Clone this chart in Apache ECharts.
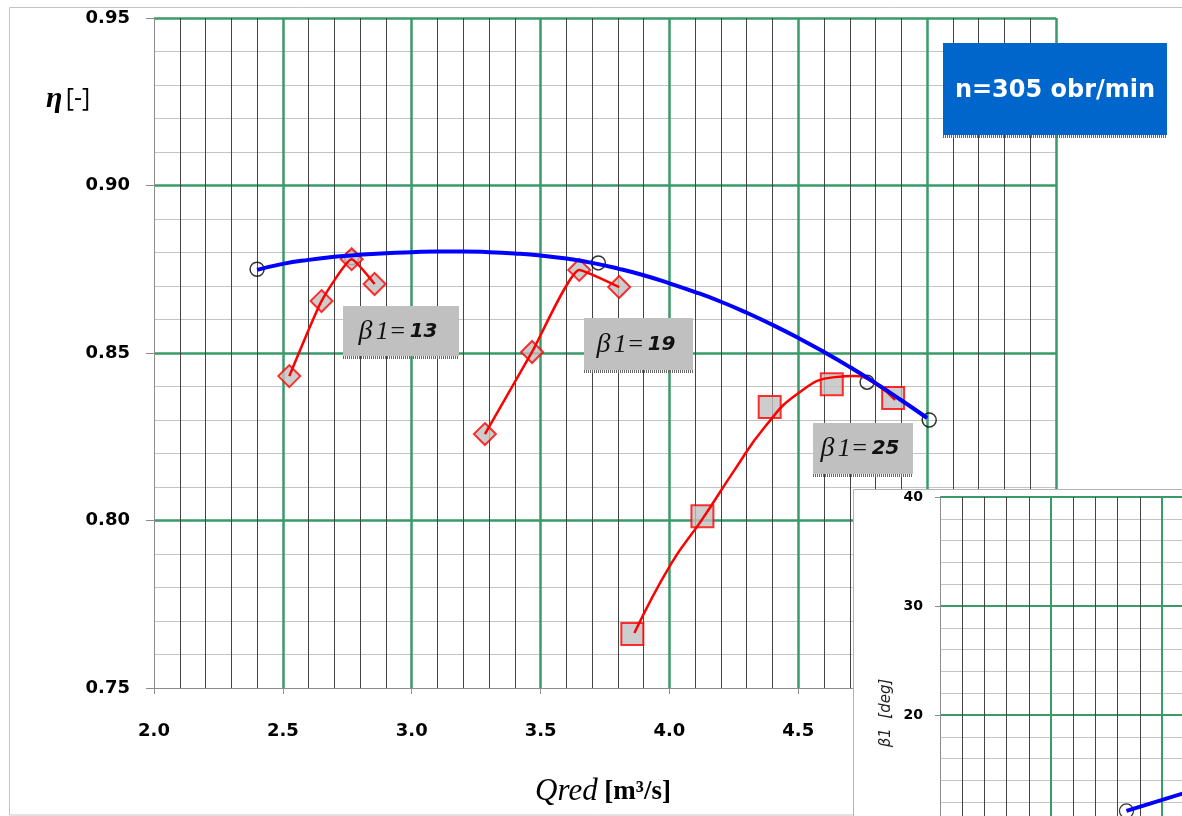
<!DOCTYPE html>
<html>
<head>
<meta charset="utf-8">
<script src="https://cdn.jsdelivr.net/npm/echarts@6/dist/echarts.min.js"></script>
<style>html,body{margin:0;padding:0;background:#fff;}#c{width:1182px;height:816px;}</style>
</head>
<body>
<div id="c"></div>
<script>
// ---- data ----
const xTicks = [2.0, 2.5, 3.0, 3.5, 4.0, 4.5, 5.0, 5.5];
const yTicks = [0.75, 0.80, 0.85, 0.90, 0.95];

// envelope (optimum) points and its fitted curve
const envQ   = [2.40, 2.767, 3.724, 4.767, 5.008];
const envEta = [0.8750, 0.8784, 0.8769, 0.8413, 0.8300];
const envCurveQ   = [2.40, 2.50, 2.60, 2.70, 2.80, 2.90, 3.00, 3.10, 3.20, 3.30, 3.40, 3.50, 3.60, 3.70, 3.80, 3.90, 4.00, 4.10, 4.20, 4.30, 4.40, 4.50, 4.60, 4.70, 4.80, 4.90, 5.00];
const envCurveEta = [0.8748, 0.8766, 0.8778, 0.8787, 0.8793, 0.8798, 0.8801, 0.8803, 0.8803, 0.8801, 0.8797, 0.8791, 0.8782, 0.8769, 0.8752, 0.8732, 0.8708, 0.8682, 0.8653, 0.8620, 0.8584, 0.8545, 0.8503, 0.8458, 0.8410, 0.8359, 0.8306];

// beta1 = 13
const b13Q   = [2.525, 2.650, 2.767, 2.856];
const b13Eta = [0.8431, 0.8655, 0.8780, 0.8706];
// beta1 = 19
const b19Q   = [3.284, 3.467, 3.650, 3.805];
const b19Eta = [0.8258, 0.8503, 0.8748, 0.8697];
// beta1 = 25 (markers and fitted curve)
const b25Q   = [3.856, 4.128, 4.389, 4.630, 4.868];
const b25Eta = [0.7661, 0.8013, 0.8339, 0.8407, 0.8366];
const b25CurveQ   = [3.864, 4.008, 4.125, 4.253, 4.370, 4.500, 4.642, 4.720, 4.813, 4.876];
const b25CurveEta = [0.7664, 0.7873, 0.8001, 0.8151, 0.8279, 0.8380, 0.8428, 0.8431, 0.8400, 0.8360];

// inset: beta1 [deg]
const insetYTicks = [20, 30, 40];
const insetQ    = [2.84, 3.30];
const insetBeta = [11.2, 14.1];

const zip = (a, b) => a.map((v, i) => [v, b[i]]);

const GREEN = '#3a9a68';
const AXIS = '#8c8c8c';
const labelRich = {
  b: {fontFamily: 'Liberation Serif', fontStyle: 'italic', fontSize: 28, fill: '#111'},
  i: {fontFamily: 'Liberation Serif', fontStyle: 'italic', fontSize: 26, fill: '#111'},
  n: {fontFamily: 'DejaVu Sans', fontStyle: 'italic', fontWeight: 'bold', fontSize: 20, fill: '#111'}
};

const chart = echarts.init(document.getElementById('c'));
const option = {
  backgroundColor: '#ffffff',
  animation: false,
  grid: [
    {left: 154, top: 18, width: 902, height: 670, outerBoundsMode: 'none'},
    {left: 940, top: 497, width: 444, height: 436, outerBoundsMode: 'none'}
  ],
  xAxis: [
    {
      type: 'value', gridIndex: 0, min: xTicks[0], max: xTicks[xTicks.length - 1], interval: 0.5,
      axisLine: {show: true, lineStyle: {color: AXIS, width: 1}},
      axisTick: {show: true, length: 6, lineStyle: {color: AXIS}},
      minorTick: {show: false, splitNumber: 5},
      axisLabel: {formatter: v => v.toFixed(1), fontFamily: 'DejaVu Sans', fontWeight: 'bold', fontSize: 18, color: '#000', margin: 34},
      splitLine: {show: true, showMinLine: false, lineStyle: {color: GREEN, width: 2.5}},
      minorSplitLine: {show: true, lineStyle: {color: '#444444', width: 1}}
    },
    {
      type: 'value', gridIndex: 1, min: 2, max: 4, interval: 0.5, z: 110,
      axisLine: {show: true, lineStyle: {color: AXIS}},
      axisTick: {show: false},
      minorTick: {show: false, splitNumber: 5},
      axisLabel: {show: false},
      splitLine: {show: true, showMinLine: false, lineStyle: {color: GREEN, width: 2}},
      minorSplitLine: {show: true, lineStyle: {color: '#444444', width: 1}}
    }
  ],
  yAxis: [
    {
      type: 'value', gridIndex: 0, min: yTicks[0], max: yTicks[yTicks.length - 1], interval: 0.05,
      axisLine: {show: true, lineStyle: {color: AXIS, width: 1}},
      axisTick: {show: true, length: 8, lineStyle: {color: AXIS}},
      minorTick: {show: false, splitNumber: 5},
      axisLabel: {formatter: v => v.toFixed(2), fontFamily: 'DejaVu Sans', fontWeight: 'bold', fontSize: 18, color: '#000', margin: 24},
      splitLine: {show: true, showMinLine: false, lineStyle: {color: GREEN, width: 2.5}},
      minorSplitLine: {show: true, lineStyle: {color: '#c4c4c4', width: 1.2}}
    },
    {
      type: 'value', gridIndex: 1, min: 0, max: 40, interval: 10, z: 110,
      axisLine: {show: true, lineStyle: {color: AXIS}},
      axisTick: {show: true, length: 5, lineStyle: {color: AXIS}},
      minorTick: {show: false, splitNumber: 5},
      axisLabel: {formatter: v => (insetYTicks.indexOf(v) >= 0 ? String(v) : ''), fontFamily: 'DejaVu Sans', fontWeight: 'bold', fontSize: 14, color: '#000', margin: 17},
      splitLine: {show: true, showMinLine: false, lineStyle: {color: GREEN, width: 2}},
      minorSplitLine: {show: true, lineStyle: {color: '#c4c4c4', width: 1.2}}
    }
  ],
  series: [
    {type: 'scatter', xAxisIndex: 0, yAxisIndex: 0, z: 3, data: zip(envQ, envEta), symbol: 'circle', symbolSize: 14,
     itemStyle: {color: 'rgba(255,255,255,0)', borderColor: '#000', borderWidth: 1.5}},
    {type: 'scatter', xAxisIndex: 0, yAxisIndex: 0, z: 4, data: zip(b13Q, b13Eta), symbol: 'diamond', symbolSize: 22,
     itemStyle: {color: '#c0c0c0', borderColor: '#ff0000', borderWidth: 2}},
    {type: 'scatter', xAxisIndex: 0, yAxisIndex: 0, z: 4, data: zip(b19Q, b19Eta), symbol: 'diamond', symbolSize: 22,
     itemStyle: {color: '#c0c0c0', borderColor: '#ff0000', borderWidth: 2}},
    {type: 'scatter', xAxisIndex: 0, yAxisIndex: 0, z: 4, data: zip(b25Q, b25Eta), symbol: 'rect', symbolSize: 22,
     itemStyle: {color: '#c0c0c0', borderColor: '#ff0000', borderWidth: 2}},
    {type: 'line', xAxisIndex: 0, yAxisIndex: 0, z: 5, data: zip(b13Q, b13Eta), smooth: 0.15, showSymbol: false,
     lineStyle: {color: '#ff0000', width: 2.5}},
    {type: 'line', xAxisIndex: 0, yAxisIndex: 0, z: 5, data: zip(b19Q, b19Eta), smooth: 0.15, showSymbol: false,
     lineStyle: {color: '#ff0000', width: 2.5}},
    {type: 'line', xAxisIndex: 0, yAxisIndex: 0, z: 5, data: zip(b25CurveQ, b25CurveEta), smooth: true, showSymbol: false,
     lineStyle: {color: '#ff0000', width: 2.5}},
    {type: 'line', xAxisIndex: 0, yAxisIndex: 0, z: 6, data: zip(envCurveQ, envCurveEta), smooth: true, showSymbol: false,
     lineStyle: {color: '#0000ff', width: 4}},
    {type: 'line', xAxisIndex: 1, yAxisIndex: 1, z: 120, data: zip(insetQ, insetBeta), showSymbol: false,
     lineStyle: {color: '#0000ff', width: 4}},
    {type: 'scatter', xAxisIndex: 1, yAxisIndex: 1, z: 119, data: [[insetQ[0], insetBeta[0]]], symbol: 'circle', symbolSize: 14,
     itemStyle: {color: 'rgba(255,255,255,0)', borderColor: '#000', borderWidth: 1.2}}
  ],
  graphic: [
    // outer chart border
    {type: 'rect', z: 1, silent: true, shape: {x: 9.5, y: 7.5, width: 1200, height: 807.5}, style: {fill: null, stroke: '#c4c4c4', lineWidth: 1}},
    // eta axis title
    {type: 'text', z: 60, x: 46, y: 99, style: {
      text: '{g|η} {b|[-]}', verticalAlign: 'middle',
      rich: {g: {fontFamily: 'Liberation Serif', fontStyle: 'italic', fontWeight: 'bold', fontSize: 30, fill: '#000'},
             b: {fontFamily: 'Open Sans', fontSize: 25, fill: '#000'}}}},
    // Q axis title
    {type: 'text', z: 60, x: 603, y: 792, style: {
      text: '{q|Qred}  {u|[m³/s]}', align: 'center', verticalAlign: 'middle',
      rich: {q: {fontFamily: 'Liberation Serif', fontStyle: 'italic', fontSize: 31, fill: '#000'},
             u: {fontFamily: 'Liberation Serif', fontWeight: 'bold', fontSize: 27, fill: '#000'}}}},
    // n = 305 box
    {type: 'rect', z: 60, shape: {x: 943, y: 43, width: 224, height: 92}, style: {fill: '#0066cc'}},
    {type: 'line', z: 60, shape: {x1: 943, y1: 136.5, x2: 1167, y2: 136.5}, style: {stroke: '#666', lineWidth: 3, lineDash: [1, 1]}},
    {type: 'text', z: 61, x: 1055, y: 91, style: {text: 'n=305 obr/min', align: 'center', verticalAlign: 'middle',
      fontFamily: 'DejaVu Sans', fontWeight: 'bold', fontSize: 24, fill: '#ffffff'}},
    // beta labels
    {type: 'rect', z: 60, shape: {x: 343, y: 306, width: 116, height: 50}, style: {fill: '#c0c0c0'}},
    {type: 'line', z: 60, shape: {x1: 343, y1: 357.5, x2: 459, y2: 357.5}, style: {stroke: '#666', lineWidth: 3, lineDash: [1, 1]}},
    {type: 'text', z: 61, x: 398, y: 332, style: {text: '{b|β} {i|1=} {n|13}', align: 'center', verticalAlign: 'middle', rich: labelRich}},
    {type: 'rect', z: 60, shape: {x: 584, y: 318, width: 109, height: 52}, style: {fill: '#c0c0c0'}},
    {type: 'line', z: 60, shape: {x1: 584, y1: 371.5, x2: 693, y2: 371.5}, style: {stroke: '#666', lineWidth: 3, lineDash: [1, 1]}},
    {type: 'text', z: 61, x: 636, y: 345, style: {text: '{b|β} {i|1=} {n|19}', align: 'center', verticalAlign: 'middle', rich: labelRich}},
    {type: 'rect', z: 60, shape: {x: 813, y: 423, width: 100, height: 51}, style: {fill: '#c0c0c0'}},
    {type: 'line', z: 60, shape: {x1: 813, y1: 475.5, x2: 913, y2: 475.5}, style: {stroke: '#666', lineWidth: 3, lineDash: [1, 1]}},
    {type: 'text', z: 61, x: 860, y: 449, style: {text: '{b|β} {i|1=} {n|25}', align: 'center', verticalAlign: 'middle', rich: labelRich}},
    // inset chart panel
    {type: 'rect', z: 100, shape: {x: 853.5, y: 489.5, width: 400, height: 400}, style: {fill: '#ffffff', stroke: '#b4b4b4', lineWidth: 1}},
    {type: 'text', z: 115, x: 886, y: 713, rotation: Math.PI / 2, style: {text: 'β1  [deg]', align: 'center', verticalAlign: 'middle',
      fontFamily: 'DejaVu Sans', fontStyle: 'italic', fontSize: 15, fill: '#222'}}
  ]
};
chart.setOption(option);
</script>
</body>
</html>
